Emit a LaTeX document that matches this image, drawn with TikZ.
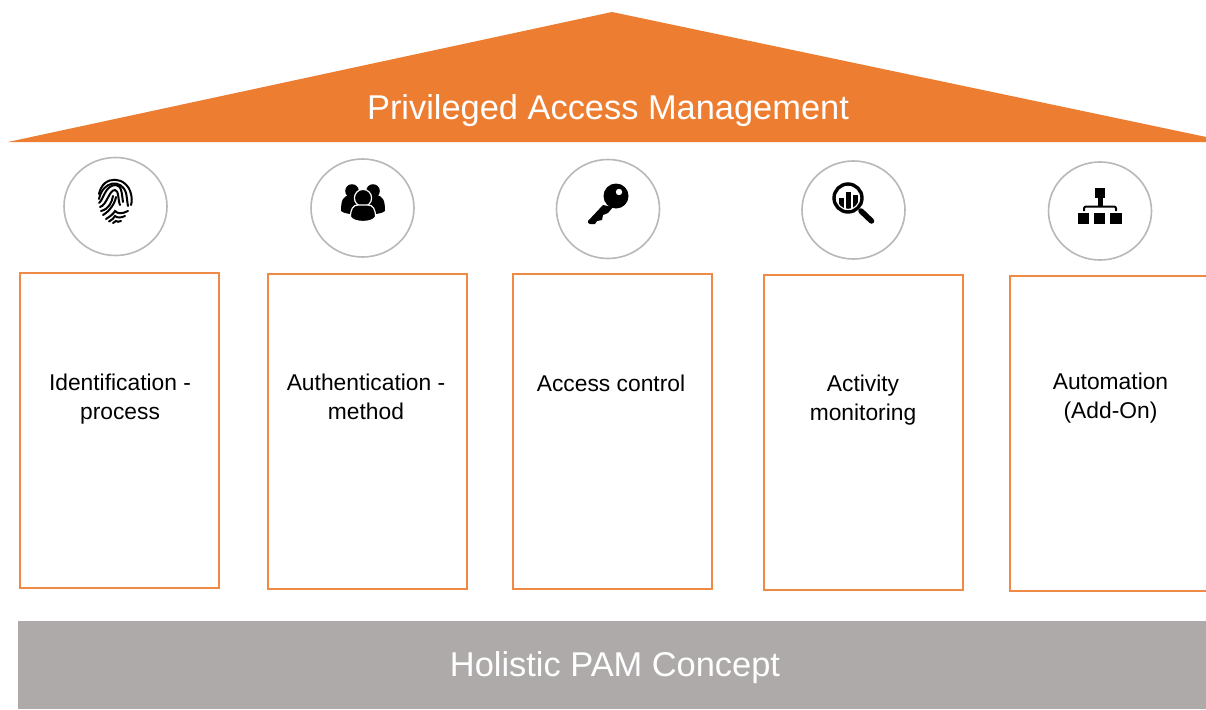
\documentclass[tikz,border=0pt]{standalone}
\usepackage{fontspec}
\setmainfont{Liberation Sans}
\usetikzlibrary{shapes.geometric}
\definecolor{pamorange}{HTML}{ED7D31}
\definecolor{pamgray}{HTML}{AEAAAA}
\definecolor{ringgray}{HTML}{B8B8B8}
\tikzset{
  x=1pt,y=-1pt,
  pillar/.style={draw=pamorange!90!white,line width=1.5pt,fill=white},
  ring/.style={draw=ringgray,line width=1.6pt,fill=white,ellipse,inner sep=0pt},
  pillartext/.style={font=\fontsize{22.8}{29}\selectfont,text=black,align=center,inner sep=0pt},
  bannertext/.style={font=\fontsize{34.4}{38}\selectfont,text=white,inner sep=0pt},
  ridge/.style={draw=black,line width=2pt,line cap=round},
}
\begin{document}
\begin{tikzpicture}
\useasboundingbox (0,0) rectangle (1206,709);
\fill[white] (0,0) rectangle (1206,709);
% roof
\fill[pamorange] (8,142) -- (612,12) -- (1230,142) -- cycle;
\node[bannertext,anchor=base] (roof) at (608,119) {Privileged Access Management};
% base
\fill[pamgray] (18,621) rectangle (1206,709);
\node[bannertext,anchor=base] (base) at (615,676) {Holistic PAM Concept};
% pillars
\draw[pillar] (20,273) rectangle (219,588);
\draw[pillar] (268,274) rectangle (467,589);
\draw[pillar] (513,274) rectangle (712,589);
\draw[pillar] (764,275) rectangle (963,590);
\draw[pillar] (1010,276) rectangle (1220,591);
\node[pillartext] (t1) at (120,399) {Identification -\\process};
\node[pillartext] (t2) at (366,396.5) {Authentication -\\method};
\node[pillartext,text height=16pt,text depth=5pt] (t3) at (611,386) {Access control};
\node[pillartext] (t4) at (863,400) {Activity\\monitoring};
\node[pillartext] (t5) at (1110.5,398.5) {Automation\\(Add-On)};
% rings
\node[ring,minimum width=103pt,minimum height=98pt] (c1) at (115.5,206.5) {};
\node[ring,minimum width=103pt,minimum height=98pt] (c2) at (362.5,208) {};
\node[ring,minimum width=103pt,minimum height=99pt] (c3) at (608,209) {};
\node[ring,minimum width=103pt,minimum height=98pt] (c4) at (853.5,210) {};
\node[ring,minimum width=103pt,minimum height=98pt] (c5) at (1100,211) {};
% fingerprint
\begin{scope}[shift={(115,200)}]
\draw[ridge] (-16,-6) .. controls (-12,-26) and (12,-24) .. (16,-6) .. controls (17,-2) and (17,2) .. (16,5);
\draw[ridge] (-16,-1) .. controls (-12,-20) and (7,-21) .. (11,-7) .. controls (12,-3) and (12,1) .. (13,6);
\draw[ridge] (-16,3) .. controls (-11,-1) and (-10,-15) .. (1,-15) .. controls (7,-15) and (7,-4) .. (8,2);
\draw[ridge] (-15,7) .. controls (-8,5) and (-6,-10) .. (0,-10) .. controls (4,-10) and (3,1) .. (5,5);
\draw[ridge] (-14,11) .. controls (-6,9) and (-3,2) .. (-2,-4);
\draw[ridge] (1,-3) .. controls (0,3) and (-5,11) .. (-12,15);
\draw[ridge] (-9,19) .. controls (-4,16) and (-1,13) .. (0,11) .. controls (3,14) and (7,14) .. (13,11);
\draw[ridge] (-6,21.5) .. controls (-3,20) and (-1,18) .. (0,16) .. controls (2,18) and (6,18) .. (10,16);
\draw[ridge] (-2,23) .. controls (-1,22) and (0,22) .. (1,21) .. controls (2,22) and (4,22) .. (6,21);
\end{scope}
% people
\begin{scope}[shift={(363,200)}]
\fill[black] (-11,-9) circle (6.8);
\fill[black] (10,-9) circle (6.8);
\fill[black] (-22,11) .. controls (-22,0) and (-20,-4) .. (-13,-5) -- (13,-5) .. controls (20,-4) and (22,0) .. (22,11) .. controls (18,16) and (-18,16) .. (-22,11) -- cycle;
\fill[black,draw=white,line width=1.2pt] (0,-2) circle (8.6);
\fill[black,draw=white,line width=1.2pt] (-12.5,17) .. controls (-12.5,9) and (-10,5) .. (-5,5) -- (5,5) .. controls (10,5) and (12.5,9) .. (12.5,17) .. controls (9,23) and (-9,23) .. (-12.5,17) -- cycle;
\end{scope}
% key
\begin{scope}[shift={(608,209)}]
\fill[black] (8,-13) circle (12.5);
\fill[black] (-5,-4) -- (-20,12) -- (-20,14) -- (-18,15) -- (-13,15) -- (-11,12) -- (-6,11) -- (-5,6) -- (0,4) -- (5,-2) -- cycle;
\fill[white] (11,-17) circle (3.2);
\end{scope}
% magnifier
\begin{scope}[shift={(848,198)}]
\draw[black,line width=3.4pt] (0,0) circle (14);
\begin{scope}
\clip (0,0) circle (10.8);
\fill[black] (-9,0) rectangle (-4,12);
\fill[black] (-2,-6) rectangle (2.5,12);
\fill[black] (4.5,-3) rectangle (9.5,12);
\end{scope}
\draw[black,line width=5.5pt,line cap=round] (13,13) -- (23.5,23);
\end{scope}
% hierarchy
\begin{scope}[shift={(1100,206)}]
\fill[black] (-5,-18) rectangle (5,-8);
\fill[black] (-22,7) rectangle (-11,18);
\fill[black] (-6,7) rectangle (5,18);
\fill[black] (10,7) rectangle (22,18);
\fill[black] (-2.5,-8) rectangle (2.5,0);
\draw[black,line width=2pt,rounded corners=2pt] (-16,5) -- (-16,0.5) -- (16,0.5) -- (16,5);
\end{scope}
\end{tikzpicture}
\end{document}
